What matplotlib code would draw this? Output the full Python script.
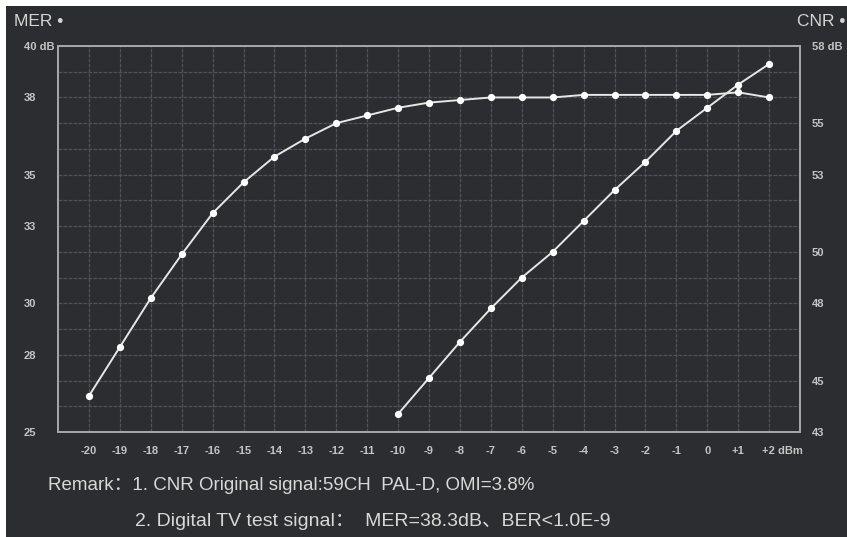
import matplotlib.pyplot as plt
from matplotlib.patches import Rectangle
from matplotlib.ticker import MultipleLocator
import matplotlib.transforms as mtransforms

# input level (dBm)
levels = list(range(-20, 3))
mer = [26.4, 28.3, 30.2, 31.9, 33.5, 34.7, 35.7, 36.4, 37.0, 37.3, 37.6, 37.8,
       37.9, 38.0, 38.0, 38.0, 38.1, 38.1, 38.1, 38.1, 38.1, 38.2, 38.0]

cnr_levels = list(range(-10, 3))
cnr = [43.7, 45.1, 46.5, 47.8, 49.0, 50.0, 51.2, 52.4, 53.5, 54.7, 55.6, 56.5, 57.3]

x_labels = ['-20', '-19', '-18', '-17', '-16', '-15', '-14', '-13', '-12', '-11',
            '-10', '-9', '-8', '-7', '-6', '-5', '-4', '-3', '-2', '-1', '0',
            '+1', '+2 dBm']
mer_ticks = [25, 28, 30, 33, 35, 38, 40]
mer_tick_labels = ['25', '28', '30', '33', '35', '38', '40 dB']
cnr_ticks = [43, 45, 48, 50, 53, 55, 58]
cnr_tick_labels = ['43', '45', '48', '50', '53', '55', '58 dB']

bg = '#2c2d30'
fg = '#c4c4c4'
line_c = '#e6e6e6'
W, H = 847, 537

plt.rcParams['font.family'] = ['Liberation Sans', 'Noto Sans CJK SC', 'DejaVu Sans']

fig = plt.figure(figsize=(W / 100, H / 100), dpi=100)
fig.patch.set_facecolor('white')
fig.add_artist(Rectangle((6 / W, 0), 1, 1 - 6 / H, transform=fig.transFigure,
                         facecolor=bg, edgecolor='none', zorder=0))

ax = fig.add_axes([58 / W, 1 - 432 / H, 742 / W, 386 / H])
ax.set_facecolor(bg)
ax.set_xlim(-21, 3)
ax.set_ylim(25, 40)
ax2 = ax.twinx()
ax2.set_ylim(43, 58)

ax.set_xticks(levels)
ax.set_xticklabels(x_labels)
ax.set_yticks(mer_ticks)
ax.set_yticklabels(mer_tick_labels)
ax.yaxis.set_minor_locator(MultipleLocator(1))
ax2.set_yticks(cnr_ticks)
ax2.set_yticklabels(cnr_tick_labels)

ax.grid(True, which='both', color='#505257', lw=0.9, ls=(0, (3, 1)))
ax.set_axisbelow(True)

ax.tick_params(axis='both', which='both', length=0, colors=fg, labelsize=8)
ax.tick_params(axis='x', pad=10)
ax.tick_params(axis='y', pad=24.5)
ax2.tick_params(axis='y', length=0, colors=fg, labelsize=8, pad=8.5)
for lab in ax.get_yticklabels():
    lab.set_horizontalalignment('left')
    lab.set_fontweight('bold')
for lab in ax2.get_yticklabels() + ax.get_xticklabels():
    lab.set_fontweight('bold')
last = ax.get_xticklabels()[-1]
last.set_horizontalalignment('left')
last.set_transform(last.get_transform() +
                   mtransforms.ScaledTranslation(-7 / 100, 0, fig.dpi_scale_trans))

for a in (ax, ax2):
    for s in a.spines.values():
        s.set_color('#a6a6a6')
        s.set_linewidth(1.4)

ax.plot(levels, mer, color=line_c, lw=1.4, marker='o', ms=4.2,
        mfc='white', mec='white', zorder=3)
ax2.plot(cnr_levels, cnr, color=line_c, lw=1.4, marker='o', ms=4.2,
         mfc='white', mec='white', zorder=3)

fig.text(14 / W, 1 - 21 / H, 'MER \u2022', color='#d4d4d4', fontsize=12.5,
         va='center', ha='left')
fig.text(845 / W, 1 - 21 / H, 'CNR \u2022', color='#d4d4d4', fontsize=12.5,
         va='center', ha='right')

remark_c = '#d8d8d8'
fig.text(48 / W, 1 - 486 / H, 'Remark\uff1a1. CNR Original signal:59CH  PAL-D, OMI=3.8%',
         color=remark_c, fontsize=13.5, va='center', ha='left')
fig.text(135 / W, 1 - 522 / H,
         '2. Digital TV test signal\uff1a  MER=38.3dB\u3001BER<1.0E-9',
         color=remark_c, fontsize=14, va='center', ha='left')

fig.savefig('out.png', dpi=100, facecolor=fig.get_facecolor())
